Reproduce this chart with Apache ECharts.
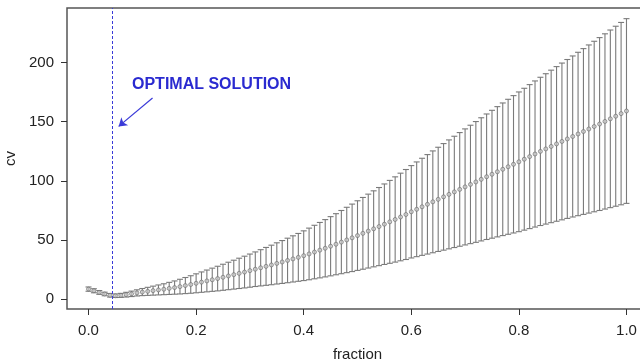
<!DOCTYPE html>
<html lang="en">
<head>
    <meta charset="UTF-8">
    <title>cv vs fraction</title>
    <script src="https://cdn.jsdelivr.net/npm/echarts@6/dist/echarts.min.js"></script>
    <style>
        * { margin: 0; padding: 0; }
        body { background: #fff; }
        #chart { width: 640px; height: 362px; }
    </style>
</head>
<body>
    <div id="chart"></div>
    <script type="text/javascript">
        // fraction values (x)
        var fraction = [
            0.00, 0.01, 0.02, 0.03, 0.04, 0.05, 0.06, 0.07, 0.08, 0.09,
            0.10, 0.11, 0.12, 0.13, 0.14, 0.15, 0.16, 0.17, 0.18, 0.19,
            0.20, 0.21, 0.22, 0.23, 0.24, 0.25, 0.26, 0.27, 0.28, 0.29,
            0.30, 0.31, 0.32, 0.33, 0.34, 0.35, 0.36, 0.37, 0.38, 0.39,
            0.40, 0.41, 0.42, 0.43, 0.44, 0.45, 0.46, 0.47, 0.48, 0.49,
            0.50, 0.51, 0.52, 0.53, 0.54, 0.55, 0.56, 0.57, 0.58, 0.59,
            0.60, 0.61, 0.62, 0.63, 0.64, 0.65, 0.66, 0.67, 0.68, 0.69,
            0.70, 0.71, 0.72, 0.73, 0.74, 0.75, 0.76, 0.77, 0.78, 0.79,
            0.80, 0.81, 0.82, 0.83, 0.84, 0.85, 0.86, 0.87, 0.88, 0.89,
            0.90, 0.91, 0.92, 0.93, 0.94, 0.95, 0.96, 0.97, 0.98, 0.99,
            1.00
        ];
        // cross-validated error (points)
        var cv = [
            8.6, 7.2, 5.8, 4.5, 3.4, 3.0, 3.3, 3.9, 4.6, 5.4,
            6.1, 6.7, 7.3, 7.9, 8.5, 9.2, 9.9, 10.7, 11.6, 12.5,
            13.5, 14.5, 15.5, 16.5, 17.5, 18.6, 19.7, 20.8, 21.9, 23.0,
            24.2, 25.4, 26.6, 27.8, 29.0, 30.3, 31.5, 32.8, 34.1, 35.4,
            36.8, 38.3, 39.9, 41.5, 43.1, 44.8, 46.5, 48.3, 50.1, 51.9,
            53.8, 55.7, 57.6, 59.5, 61.4, 63.4, 65.4, 67.4, 69.5, 71.6,
            73.9, 76.0, 78.1, 80.2, 82.3, 84.4, 86.5, 88.6, 90.7, 92.8,
            94.9, 97.0, 99.1, 101.3, 103.5, 105.6, 107.7, 109.8, 111.9, 114.0,
            116.1, 118.3, 120.5, 122.7, 124.9, 127.0, 129.1, 131.2, 133.3, 135.4,
            137.5, 139.6, 141.7, 143.8, 145.9, 148.0, 150.2, 152.4, 154.6, 156.8,
            159.0
        ];
        // error bar half widths
        var cvError = [
            1.8, 1.7, 1.6, 1.5, 1.5, 1.5, 1.7, 2.0, 2.3, 2.6,
            3.0, 3.4, 3.8, 4.2, 4.6, 5.1, 5.6, 6.2, 6.8, 7.4,
            8.0, 8.6, 9.2, 9.8, 10.4, 11.0, 11.6, 12.2, 12.8, 13.4,
            14.0, 14.6, 15.3, 16.0, 16.7, 17.4, 18.1, 18.8, 19.5, 20.2,
            21.0, 21.8, 22.6, 23.4, 24.2, 25.0, 25.8, 26.7, 27.6, 28.5,
            29.4, 30.3, 31.2, 32.1, 33.0, 34.0, 35.0, 36.0, 37.0, 38.0,
            39.0, 40.0, 41.0, 42.0, 43.0, 44.0, 45.0, 46.0, 47.0, 48.0,
            49.0, 50.0, 51.0, 52.0, 53.0, 54.0, 55.0, 56.0, 57.0, 58.0,
            59.0, 59.9, 60.8, 61.7, 62.6, 63.5, 64.4, 65.3, 66.2, 67.1,
            68.0, 69.0, 70.0, 71.0, 72.0, 73.0, 74.0, 75.0, 76.0, 77.0,
            78.0
        ];
        var xTicks = [0, 0.2, 0.4, 0.6, 0.8, 1.0];
        var yTicks = [0, 50, 100, 150, 200];
        var optimalFraction = 0.044;
        var arrowFrom = [0.119, 170];
        var arrowTo = [0.056, 146];

        var myChart = echarts.init(document.getElementById('chart'));

        var barData = [];
        var pointData = [];
        for (var i = 0; i < fraction.length; i++) {
            barData.push([fraction[i], cv[i] - cvError[i], cv[i] + cvError[i]]);
            pointData.push([fraction[i], cv[i]]);
        }

        var labelFont = { fontFamily: 'Liberation Sans, Arial, sans-serif', fontSize: 15, color: '#222' };

        option = {
            animation: false,
            backgroundColor: '#fff',
            grid: {
                left: 67, top: 8, right: -8, bottom: 53,
                show: true, borderColor: '#555', borderWidth: 1.5,
                outerBoundsMode: 'none'
            },
            xAxis: {
                type: 'value', min: -0.04, max: 1.04,
                name: 'fraction', nameLocation: 'middle', nameGap: 38,
                nameTextStyle: labelFont,
                axisLine: { show: false, onZero: false },
                splitLine: { show: false },
                axisTick: { show: true, length: 6, customValues: xTicks, lineStyle: { color: '#333' } },
                axisLabel: Object.assign({ margin: 14, customValues: xTicks, formatter: function (v) { return v.toFixed(1); } }, labelFont)
            },
            yAxis: {
                type: 'value', min: -8.2, max: 246,
                name: 'cv', nameLocation: 'middle', nameGap: 41,
                nameTextStyle: labelFont,
                axisLine: { show: false, onZero: false },
                splitLine: { show: false },
                axisTick: { show: true, length: 6, customValues: yTicks, lineStyle: { color: '#333' } },
                axisLabel: Object.assign({ margin: 13, customValues: yTicks }, labelFont)
            },
            graphic: [{
                type: 'text', left: 132, top: 77,
                style: { text: 'OPTIMAL SOLUTION', fill: '#2a2ad0', font: 'bold 16px Liberation Sans, Arial, sans-serif' }
            }],
            series: [
                {
                    type: 'custom',
                    data: barData,
                    silent: true,
                    renderItem: function (params, api) {
                        var top = api.coord([api.value(0), api.value(2)]);
                        var bot = api.coord([api.value(0), api.value(1)]);
                        var cap = 3;
                        var st = { stroke: '#7a7a7a', lineWidth: 1.1 };
                        return {
                            type: 'group',
                            children: [
                                { type: 'line', shape: { x1: top[0], y1: top[1], x2: bot[0], y2: bot[1] }, style: st },
                                { type: 'line', shape: { x1: top[0] - cap, y1: top[1], x2: top[0] + cap, y2: top[1] }, style: st },
                                { type: 'line', shape: { x1: bot[0] - cap, y1: bot[1], x2: bot[0] + cap, y2: bot[1] }, style: st }
                            ]
                        };
                    },
                    markLine: {
                        silent: true,
                        animation: false,
                        label: { show: false },
                        data: [
                            [
                                { coord: [optimalFraction, -8.2], symbol: 'none' },
                                { coord: [optimalFraction, 246], symbol: 'none' }
                            ],
                            [
                                { coord: arrowFrom, symbol: 'none', lineStyle: { type: 'solid', color: '#3a3ad8', width: 1.2 } },
                                { coord: arrowTo, symbol: 'arrow', symbolSize: 8 }
                            ]
                        ],
                        lineStyle: { type: [3, 2], color: '#3a3ad8', width: 1 }
                    }
                },
                {
                    type: 'scatter',
                    data: pointData,
                    symbol: 'circle',
                    symbolSize: 4,
                    silent: true,
                    itemStyle: { color: '#c8c8c8', borderColor: '#6a6a6a', borderWidth: 0.8 }
                }
            ]
        };

        myChart.setOption(option);
    </script>
</body>
</html>
